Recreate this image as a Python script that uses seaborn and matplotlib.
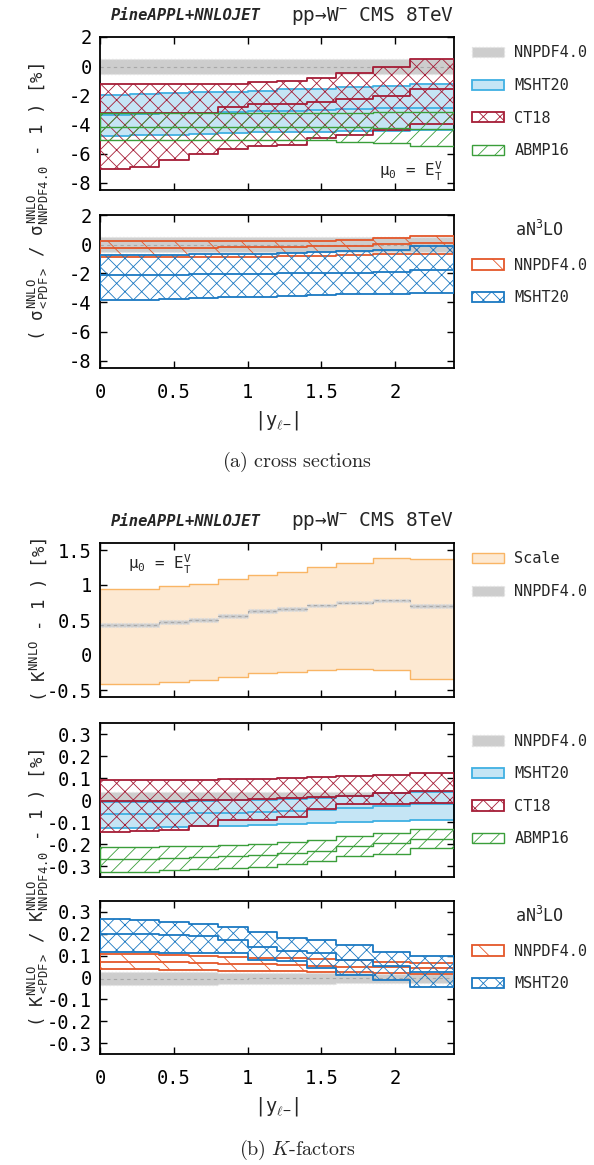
import numpy as np
import matplotlib
matplotlib.use('Agg')
import matplotlib.pyplot as plt
import seaborn as sns
from matplotlib.patches import Patch

### Data
edges = [0, 0.2, 0.4, 0.6, 0.8, 1.0, 1.2, 1.4, 1.6, 1.85, 2.1, 2.4]
xticks = [0, 0.5, 1, 1.5, 2]
xtick_labels = ['0', '0.5', '1', '1.5', '2']
yticks_xs = [-8, -6, -4, -2, 0, 2]
yticks_k = [-0.5, 0, 0.5, 1, 1.5]
yticks_kr = [-0.3, -0.2, -0.1, 0, 0.1, 0.2, 0.3]

# (a) cross sections, NNLO, ratio to NNPDF4.0 [%]
xs_nnpdf_lo = [-0.55] * 11
xs_nnpdf_hi = [0.5] * 11
xs_msht_lo = [-4.8, -4.75, -4.7, -4.65, -4.6, -4.55, -4.5, -4.5, -4.45, -4.45, -4.4]
xs_msht_c = [-3.35, -3.3, -3.25, -3.2, -3.15, -3.1, -3.05, -3.0, -2.95, -2.9, -2.85]
xs_msht_hi = [-1.95, -1.9, -1.85, -1.8, -1.75, -1.7, -1.6, -1.55, -1.45, -1.35, -1.25]
xs_ct18_lo = [-7.05, -6.9, -6.45, -6.05, -5.7, -5.45, -5.4, -4.95, -4.75, -4.4, -4.0]
xs_ct18_c = [-3.2, -3.2, -3.2, -3.2, -2.8, -2.62, -2.57, -2.46, -2.23, -2.07, -1.55]
xs_ct18_hi = [-1.25, -1.25, -1.25, -1.25, -1.2, -1.1, -1.03, -0.8, -0.5, -0.09, 0.48]
xs_abmp_lo = [-5.05, -5.05, -5.05, -5.05, -5.05, -5.05, -5.05, -5.1, -5.2, -5.3, -5.45]
xs_abmp_c = [-4.15, -4.15, -4.15, -4.15, -4.15, -4.15, -4.15, -4.15, -4.2, -4.25, -4.3]
xs_abmp_hi = [-3.25, -3.25, -3.25, -3.25, -3.25, -3.25, -3.2, -3.2, -3.2, -3.15, -3.15]

# (a) aN3LO
xs_n3_nnpdf_lo = [-0.85, -0.85, -0.85, -0.85, -0.85, -0.85, -0.82, -0.8, -0.75, -0.7, -0.65]
xs_n3_nnpdf_c = [-0.25, -0.25, -0.25, -0.25, -0.22, -0.2, -0.18, -0.15, -0.1, 0.0, 0.05]
xs_n3_nnpdf_hi = [0.2, 0.2, 0.2, 0.2, 0.2, 0.2, 0.22, 0.25, 0.3, 0.45, 0.55]
xs_n3_msht_lo = [-3.85, -3.8, -3.75, -3.7, -3.65, -3.6, -3.55, -3.5, -3.45, -3.4, -3.35]
xs_n3_msht_c = [-2.15, -2.12, -2.1, -2.08, -2.05, -2.03, -2.0, -1.98, -1.95, -1.9, -1.8]
xs_n3_msht_hi = [-0.75, -0.75, -0.72, -0.7, -0.68, -0.65, -0.6, -0.55, -0.5, -0.4, -0.15]

# (b) K-factor, scale band and NNPDF4.0
k_scale_lo = [-0.41, -0.41, -0.38, -0.36, -0.32, -0.26, -0.25, -0.22, -0.2, -0.21, -0.34]
k_scale_hi = [0.94, 0.94, 0.98, 1.01, 1.08, 1.15, 1.18, 1.26, 1.32, 1.38, 1.37]
k_nnpdf_c = [0.43, 0.43, 0.47, 0.50, 0.56, 0.63, 0.66, 0.71, 0.75, 0.78, 0.70]
k_nnpdf_err = [0.025] * 11

# (b) K-factor ratios, NNLO
kr_nnpdf_lo = [-0.035] * 11
kr_nnpdf_hi = [0.035] * 11
kr_msht_lo = [-0.125, -0.125, -0.122, -0.12, -0.118, -0.115, -0.11, -0.105, -0.1, -0.095, -0.09]
kr_msht_c = [-0.065, -0.065, -0.062, -0.06, -0.058, -0.055, -0.05, -0.045, -0.035, -0.025, -0.02]
kr_msht_hi = [-0.01, -0.01, -0.008, -0.005, -0.002, 0.0, 0.005, 0.01, 0.02, 0.03, 0.035]
kr_ct18_lo = [-0.145, -0.14, -0.135, -0.12, -0.09, -0.09, -0.075, -0.04, -0.02, -0.02, -0.015]
kr_ct18_c = [-0.005, -0.005, -0.003, 0.0, 0.0, 0.005, 0.01, 0.015, 0.02, 0.03, 0.04]
kr_ct18_hi = [0.09, 0.09, 0.09, 0.092, 0.095, 0.097, 0.1, 0.105, 0.11, 0.115, 0.125]
kr_abmp_lo = [-0.325, -0.325, -0.32, -0.315, -0.31, -0.305, -0.29, -0.275, -0.255, -0.245, -0.22]
kr_abmp_c = [-0.27, -0.27, -0.265, -0.26, -0.255, -0.25, -0.24, -0.23, -0.21, -0.195, -0.175]
kr_abmp_hi = [-0.215, -0.215, -0.21, -0.21, -0.205, -0.2, -0.19, -0.18, -0.165, -0.15, -0.13]

# (b) K-factor ratios, aN3LO
kr_n3_nnpdf_lo = [0.038, 0.038, 0.036, 0.034, 0.032, 0.03, 0.028, 0.026, 0.024, 0.02, 0.018]
kr_n3_nnpdf_c = [0.072, 0.072, 0.07, 0.067, 0.063, 0.06, 0.057, 0.053, 0.05, 0.046, 0.042]
kr_n3_nnpdf_hi = [0.108, 0.108, 0.105, 0.1, 0.095, 0.09, 0.088, 0.085, 0.078, 0.072, 0.068]
kr_n3_msht_lo = [0.118, 0.118, 0.112, 0.11, 0.11, 0.08, 0.075, 0.042, 0.011, -0.012, -0.043]
kr_n3_msht_c = [0.198, 0.198, 0.195, 0.188, 0.172, 0.14, 0.122, 0.11, 0.08, 0.052, 0.026]
kr_n3_msht_hi = [0.268, 0.265, 0.252, 0.246, 0.229, 0.21, 0.183, 0.172, 0.15, 0.118, 0.098]
kr_n3_gray_lo = [-0.035, -0.035, -0.034, -0.033, -0.032, -0.03, -0.029, -0.028, -0.026, -0.025, -0.025]
kr_n3_gray_hi = [0.025, 0.025, 0.024, 0.023, 0.022, 0.021, 0.02, 0.02, 0.019, 0.018, 0.018]

##########################################################################

sns.set_theme(style='ticks')
plt.rcParams['font.family'] = ['DejaVu Sans Mono', 'DejaVu Sans']
plt.rcParams['mathtext.fontset'] = 'custom'
plt.rcParams['mathtext.rm'] = 'DejaVu Sans Mono'
plt.rcParams['mathtext.it'] = 'DejaVu Sans Mono'
plt.rcParams['mathtext.bf'] = 'DejaVu Sans Mono:bold'
plt.rcParams['axes.unicode_minus'] = False
plt.rcParams['hatch.linewidth'] = 0.6

GRAY = '#cdcdcd'
RED = '#a51c36'
LBLUE_F = '#c5e5f5'
LBLUE_E = '#3fb0e3'
GREEN = '#3a9e3a'
ORANGE = '#e4572a'
BLUE = '#1a78c2'
SC_F = '#fde9d2'
SC_E = '#f9b565'


def ext(v):
    return np.append(v, v[-1])


def band(ax, lo, hi, face, edge, hatch=None, c=None, lw=1.3, z=2):
    ax.fill_between(edges, ext(lo), ext(hi), step='post', facecolor=face,
                    edgecolor=edge, hatch=hatch, linewidth=lw, zorder=z)
    if c is not None:
        sns.lineplot(x=edges, y=ext(c), drawstyle='steps-post', estimator=None,
                     color=edge, lw=lw, ax=ax, zorder=z)


def gray_band(ax, lo, hi, z=1):
    ax.fill_between(edges, ext(lo), ext(hi), step='post', facecolor=GRAY,
                    edgecolor='#e2e2e2', linestyle=':', linewidth=1, zorder=z)
    sns.lineplot(x=edges, y=ext((np.array(lo) + np.array(hi)) / 2), drawstyle='steps-post',
                 estimator=None, color='#a8a8a8', lw=0.8, ls=(0, (3, 3)), ax=ax, zorder=z)


def style(ax, yt, ylim, xlab=False):
    ax.set_xlim(0, 2.4)
    ax.set_ylim(*ylim)
    ax.set_xticks(xticks, labels=xtick_labels)
    ax.set_yticks(yt, labels=[f'{t:g}' for t in yt])
    ax.tick_params(direction='in', top=True, right=True, length=5, width=1,
                   labelsize=13.5, pad=6, colors='black')
    ax.tick_params(axis='x', labelbottom=xlab, pad=11)
    for s in ax.spines.values():
        s.set_linewidth(1.3)
        s.set_color('black')
    if xlab:
        ax.set_xlabel(r'|y$_{\ell\mathrm{-}}$|', fontsize=13.5, labelpad=5)
    else:
        ax.set_xlabel('')
    ax.set_ylabel('')


def legend(ax, handles, labels, y0):
    ax.legend(handles, labels, loc='upper left', bbox_to_anchor=(1.05, y0), frameon=False,
              borderpad=0, borderaxespad=0, handlelength=2.1, handleheight=0.65,
              handletextpad=0.7, labelspacing=1.15, fontsize=11)


def hdr(ax):
    ax.text(0.03, 1.14, 'PineAPPL+NNLOJET', transform=ax.transAxes, fontsize=11.2,
            fontweight='bold', fontstyle='italic', ha='left', va='center')
    ax.text(1.0, 1.14, 'pp→W$^{-}$ CMS 8TeV', transform=ax.transAxes, fontsize=14,
            ha='right', va='center')


H = 1165.0
def pos(top, bot):
    return [100 / 594, 1 - bot / H, 354 / 594, (bot - top) / H]


fig = plt.figure(figsize=(5.94, 11.65), dpi=100)

h_nnpdf = Patch(facecolor=GRAY, edgecolor='#e2e2e2', linestyle=':')
h_msht = Patch(facecolor=LBLUE_F, edgecolor=LBLUE_E, lw=1.3)
h_ct18 = Patch(facecolor='none', edgecolor=RED, hatch='xx', lw=1.3)
h_abmp = Patch(facecolor='none', edgecolor=GREEN, hatch='//', lw=1.0)
h_n3nn = Patch(facecolor='none', edgecolor=ORANGE, hatch='\\', lw=1.3)
h_n3ms = Patch(facecolor='none', edgecolor=BLUE, hatch='xx', lw=1.3)
h_scale = Patch(facecolor=SC_F, edgecolor=SC_E, lw=1.0)

##(a) top panel
ax1 = fig.add_axes(pos(37, 190))
gray_band(ax1, xs_nnpdf_lo, xs_nnpdf_hi)
band(ax1, xs_msht_lo, xs_msht_hi, LBLUE_F, LBLUE_E, c=xs_msht_c, z=2)
band(ax1, xs_ct18_lo, xs_ct18_hi, 'none', RED, hatch='xx', c=xs_ct18_c, z=3)
band(ax1, xs_abmp_lo, xs_abmp_hi, 'none', GREEN, hatch='//', c=xs_abmp_c, lw=1.0, z=4)
style(ax1, yticks_xs, (-8.5, 2))
hdr(ax1)
ax1.text(0.97, 0.12, r'$\mu_0$ = E$_\mathrm{T}^\mathrm{V}$', transform=ax1.transAxes,
         fontsize=11.5, ha='right', va='center')
legend(ax1, [h_nnpdf, h_msht, h_ct18, h_abmp], ['NNPDF4.0', 'MSHT20', 'CT18', 'ABMP16'], 0.945)

##(a) bottom panel
ax2 = fig.add_axes(pos(215, 368))
gray_band(ax2, xs_nnpdf_lo, xs_nnpdf_hi)
band(ax2, xs_n3_nnpdf_lo, xs_n3_nnpdf_hi, 'none', ORANGE, hatch='\\', c=xs_n3_nnpdf_c, z=3)
band(ax2, xs_n3_msht_lo, xs_n3_msht_hi, 'none', BLUE, hatch='xx', c=xs_n3_msht_c, z=3)
style(ax2, yticks_xs, (-8.5, 2), xlab=True)
ax2.text(1.172, 0.9, 'aN$^{3}$LO', transform=ax2.transAxes, fontsize=12, ha='left', va='center')
legend(ax2, [h_n3nn, h_n3ms], ['NNPDF4.0', 'MSHT20'], 0.72)

fig.text(38 / 594, 1 - 202 / H,
         r'( $\sigma^{\mathrm{NNLO}}_{\mathrm{<PDF>}}$ / $\sigma^{\mathrm{NNLO}}_{\mathrm{NNPDF4.0}}$ - 1 ) [%]',
         rotation=90, ha='center', va='center', fontsize=12.5)
fig.text(0.5, 1 - 462 / H, r'$\mathrm{(a)\ cross\ sections}$', math_fontfamily='cm',
         ha='center', va='center', fontsize=14.5)

##(b) K-factor panel
ax3 = fig.add_axes(pos(543, 697))
band(ax3, k_scale_lo, k_scale_hi, SC_F, SC_E, lw=1.0, z=1)
k_lo = np.array(k_nnpdf_c) - np.array(k_nnpdf_err)
k_hi = np.array(k_nnpdf_c) + np.array(k_nnpdf_err)
gray_band(ax3, k_lo, k_hi, z=2)
style(ax3, yticks_k, (-0.6, 1.6))
hdr(ax3)
ax3.text(0.08, 0.86, r'$\mu_0$ = E$_\mathrm{T}^\mathrm{V}$', transform=ax3.transAxes,
         fontsize=11.5, ha='left', va='center')
legend(ax3, [h_scale, h_nnpdf], ['Scale', 'NNPDF4.0'], 0.945)
fig.text(38 / 594, 1 - 620 / H, r'( K$^{\mathrm{NNLO}}$ - 1 ) [%]', rotation=90,
         ha='center', va='center', fontsize=12.5)

##(b) K ratio NNLO
ax4 = fig.add_axes(pos(723, 877))
gray_band(ax4, kr_nnpdf_lo, kr_nnpdf_hi)
band(ax4, kr_msht_lo, kr_msht_hi, LBLUE_F, LBLUE_E, c=kr_msht_c, z=2)
band(ax4, kr_ct18_lo, kr_ct18_hi, 'none', RED, hatch='xx', c=kr_ct18_c, z=3)
band(ax4, kr_abmp_lo, kr_abmp_hi, 'none', GREEN, hatch='//', c=kr_abmp_c, lw=1.0, z=4)
style(ax4, yticks_kr, (-0.35, 0.35))
legend(ax4, [h_nnpdf, h_msht, h_ct18, h_abmp], ['NNPDF4.0', 'MSHT20', 'CT18', 'ABMP16'], 0.93)

##(b) K ratio aN3LO
ax5 = fig.add_axes(pos(901, 1054))
gray_band(ax5, kr_n3_gray_lo, kr_n3_gray_hi)
band(ax5, kr_n3_nnpdf_lo, kr_n3_nnpdf_hi, 'none', ORANGE, hatch='\\', c=kr_n3_nnpdf_c, z=3)
band(ax5, kr_n3_msht_lo, kr_n3_msht_hi, 'none', BLUE, hatch='xx', c=kr_n3_msht_c, z=3)
style(ax5, yticks_kr, (-0.35, 0.35), xlab=True)
ax5.text(1.172, 0.9, 'aN$^{3}$LO', transform=ax5.transAxes, fontsize=12, ha='left', va='center')
legend(ax5, [h_n3nn, h_n3ms], ['NNPDF4.0', 'MSHT20'], 0.72)

fig.text(38 / 594, 1 - 888 / H,
         r'( K$^{\mathrm{NNLO}}_{\mathrm{<PDF>}}$ / K$^{\mathrm{NNLO}}_{\mathrm{NNPDF4.0}}$ - 1 ) [%]',
         rotation=90, ha='center', va='center', fontsize=12.5)
fig.text(0.5, 1 - 1150 / H, r'$\mathrm{(b)}\ K\mathrm{\text{-}factors}$', math_fontfamily='cm',
         ha='center', va='center', fontsize=14.5)

fig.savefig('out.png', dpi=100)
